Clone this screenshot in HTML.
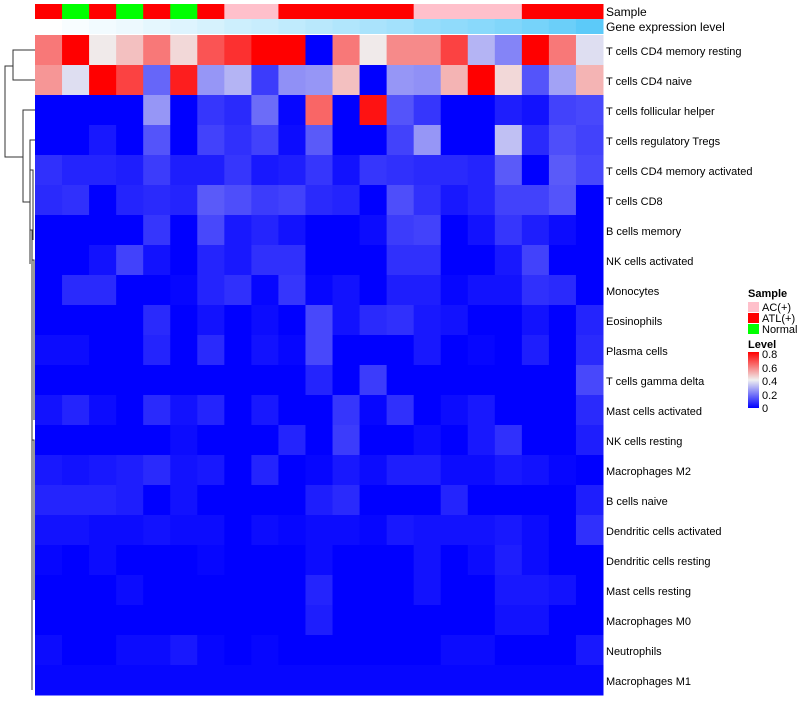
<!DOCTYPE html>
<html><head><meta charset="utf-8"><style>
body{margin:0;background:#fff;font-family:"Liberation Sans",sans-serif;}
svg text{font-family:"Liberation Sans",sans-serif;}
</style></head><body>
<svg id="chart" width="800" height="700">
<g id="dendro" stroke="#333" stroke-width="1" fill="none">
<path d="M35,50 H13 V80 H35"/>
<path d="M13,66 H5 V157 H23"/>
<path d="M35,110 H23 V202 H30"/>
<path d="M35,140 H30 V264"/>
<path d="M30,170 H33 V240"/>
<path d="M30,230 H32 V690"/>
<path d="M32,260 H34 V420"/>
<path d="M32,440 H34 V600"/>
</g>
<g id="cells"></g>
<text x="606" y="16" font-size="12">Sample</text>
<text x="606" y="31" font-size="12">Gene expression level</text>
<g id="labels" font-size="11" fill="#000"></g>
<g font-size="11">
<text x="748" y="297" font-weight="bold">Sample</text>
<rect x="748" y="302" width="11" height="10" fill="#ffc0cb"/>
<text x="762" y="311">AC(+)</text>
<rect x="748" y="313" width="11" height="10" fill="#ff0000"/>
<text x="762" y="322">ATL(+)</text>
<rect x="748" y="324" width="11" height="10" fill="#00ff00"/>
<text x="762" y="333">Normal</text>
<text x="748" y="348" font-weight="bold">Level</text>
<defs><linearGradient id="lg" x1="0" y1="1" x2="0" y2="0">
<stop offset="0" stop-color="#0000ff"/><stop offset="0.5" stop-color="#f0f0f0"/><stop offset="1" stop-color="#ff0000"/></linearGradient></defs>
<rect x="748" y="352" width="11" height="56" fill="url(#lg)"/>
<text x="762" y="358">0.8</text>
<text x="762" y="372">0.6</text>
<text x="762" y="385">0.4</text>
<text x="762" y="399">0.2</text>
<text x="762" y="412">0</text>
</g>
</svg>
<script>
const rowNames=["T cells CD4 memory resting","T cells CD4 naive","T cells follicular helper","T cells regulatory  Tregs","T cells CD4 memory activated","T cells CD8","B cells memory","NK cells activated","Monocytes","Eosinophils","Plasma cells","T cells gamma delta","Mast cells activated","NK cells resting","Macrophages M2","B cells naive","Dendritic cells activated","Dendritic cells resting","Mast cells resting","Macrophages M0","Neutrophils","Macrophages M1"];
const sampleGroups=["ATL","N","ATL","N","ATL","N","ATL","AC","AC","ATL","ATL","ATL","ATL","ATL","AC","AC","AC","AC","ATL","ATL","ATL"];
const geneLevels=[0,0.04,0.07,0.1,0.14,0.18,0.22,0.27,0.3,0.34,0.38,0.42,0.46,0.5,0.56,0.6,0.64,0.68,0.74,0.8,0.88];
const values=[
[.6,.8,.41,.48,.6,.44,.66,.72,.8,.8,0,.6,.41,.57,.57,.69,.3,.22,.8,.6,.37],
[.55,.37,.8,.69,.17,.75,.25,.3,.1,.24,.25,.48,0,.25,.24,.5,.8,.44,.14,.27,.5],
[0,0,0,0,.25,0,.09,.07,.18,.01,.63,0,.77,.14,.09,0,0,.05,.03,.11,.12],
[0,0,.04,0,.14,0,.11,.08,.11,.02,.15,0,0,.11,.25,0,0,.32,.07,.13,.11],
[.08,.06,.06,.05,.1,.05,.05,.09,.04,.05,.09,.03,.09,.08,.07,.07,.06,.15,0,.15,.12],
[.07,.08,0,.06,.07,.06,.15,.13,.1,.11,.07,.06,0,.13,.08,.04,.06,.11,.11,.14,0],
[0,0,0,0,.09,0,.12,.04,.06,.03,0,0,.02,.1,.11,0,.03,.09,.05,.02,0],
[0,0,.03,.11,.03,0,.06,.04,.08,.08,0,0,0,.08,.08,0,0,.04,.11,0,0],
[0,.07,.07,0,0,.01,.06,.08,.01,.09,.01,.03,0,.05,.05,.01,.03,.03,.08,.07,0],
[0,0,0,0,.07,0,.03,0,.02,0,.12,.03,.07,.08,.04,.03,0,0,.03,0,.06],
[.02,.02,0,0,.06,0,.07,0,.03,.01,.12,0,0,0,.04,0,.01,0,.05,0,.07],
[0,0,0,0,0,0,0,0,0,0,.06,0,.1,0,0,0,0,0,0,0,.12],
[.03,.06,.02,0,.07,.03,.06,0,.04,0,0,.09,.01,.08,0,.02,.04,0,0,0,.07],
[0,0,0,0,0,.02,0,0,0,.06,0,.1,0,0,.02,0,.04,.08,0,0,.05],
[.04,.03,.04,.05,.07,.03,.04,0,.06,0,.01,.04,.02,.05,.05,.02,.02,.04,.03,.01,0],
[.06,.06,.06,.05,0,.03,0,0,0,0,.05,.07,0,0,0,.06,0,0,0,0,.05],
[.03,.03,.02,.02,.03,.02,.02,0,.02,.01,.02,.02,.01,.04,.03,.03,.03,.04,.02,0,.08],
[.01,0,.02,0,0,0,.01,0,0,0,.02,0,0,0,.03,0,.02,.05,.02,0,0],
[0,0,0,.02,0,0,0,0,0,0,.06,0,0,0,.03,0,0,.04,.04,.03,0],
[0,0,0,0,0,0,0,0,0,0,.05,0,0,0,0,0,0,.03,.03,0,0],
[.02,0,0,.02,.02,.04,.01,0,.01,0,0,0,0,0,0,.02,.02,0,0,0,.04],
[.01,.01,.01,.01,.01,.01,.01,.01,.01,.01,.01,.01,.01,.01,.01,.01,.01,.01,.01,.01,.01]
];
const NS="http://www.w3.org/2000/svg";
const x0=35,x1=603,y0=35,rowH=30;
const nC=sampleGroups.length, cw=(x1-x0)/nC;
const xPos=i=>x0+i*cw;
const yPos=r=>y0+r*rowH;
function lerp(a,b,t){return Math.round(a+(b-a)*t);}
function col(v){
  if(v<=0.4){const t=v/0.4;return `rgb(${lerp(0,240,t)},${lerp(0,240,t)},${lerp(255,240,t)})`;}
  const t=Math.min(1,(v-0.4)/0.4);return `rgb(${lerp(240,255,t)},${lerp(240,0,t)},${lerp(240,0,t)})`;
}
function gcol(v){const t=Math.min(1,v);return `rgb(${lerp(255,70,t)},${lerp(255,195,t)},${lerp(255,248,t)})`;}
const sc={ATL:"#ff0000",AC:"#ffc0cb",N:"#00ff00"};
const g=document.getElementById('cells');
sampleGroups.forEach((s,i)=>{
  const r=document.createElementNS(NS,'rect');
  r.setAttribute('x',xPos(i));r.setAttribute('y',4);r.setAttribute('width',cw+0.5);r.setAttribute('height',15);r.setAttribute('fill',sc[s]);
  
  
  g.appendChild(r);
});
geneLevels.forEach((v,i)=>{
  const r=document.createElementNS(NS,'rect');
  r.setAttribute('x',xPos(i));r.setAttribute('y',19);r.setAttribute('width',cw+0.5);r.setAttribute('height',15);r.setAttribute('fill',gcol(v));
  
  
  g.appendChild(r);
});
values.forEach((row,ri)=>row.forEach((v,ci)=>{
  const r=document.createElementNS(NS,'rect');
  r.setAttribute('x',xPos(ci));r.setAttribute('y',yPos(ri));r.setAttribute('width',cw+0.5);r.setAttribute('height',rowH+0.5);r.setAttribute('fill',col(v));
  
  
  g.appendChild(r);
}));
const lg=document.getElementById('labels');
rowNames.forEach((n,ri)=>{
  const t=document.createElementNS(NS,'text');
  t.setAttribute('x',606);t.setAttribute('y',yPos(ri)+rowH/2+5);t.textContent=n;
  t.setAttribute('xml:space','preserve');
  
  
  lg.appendChild(t);
});
</script>
</body></html>
